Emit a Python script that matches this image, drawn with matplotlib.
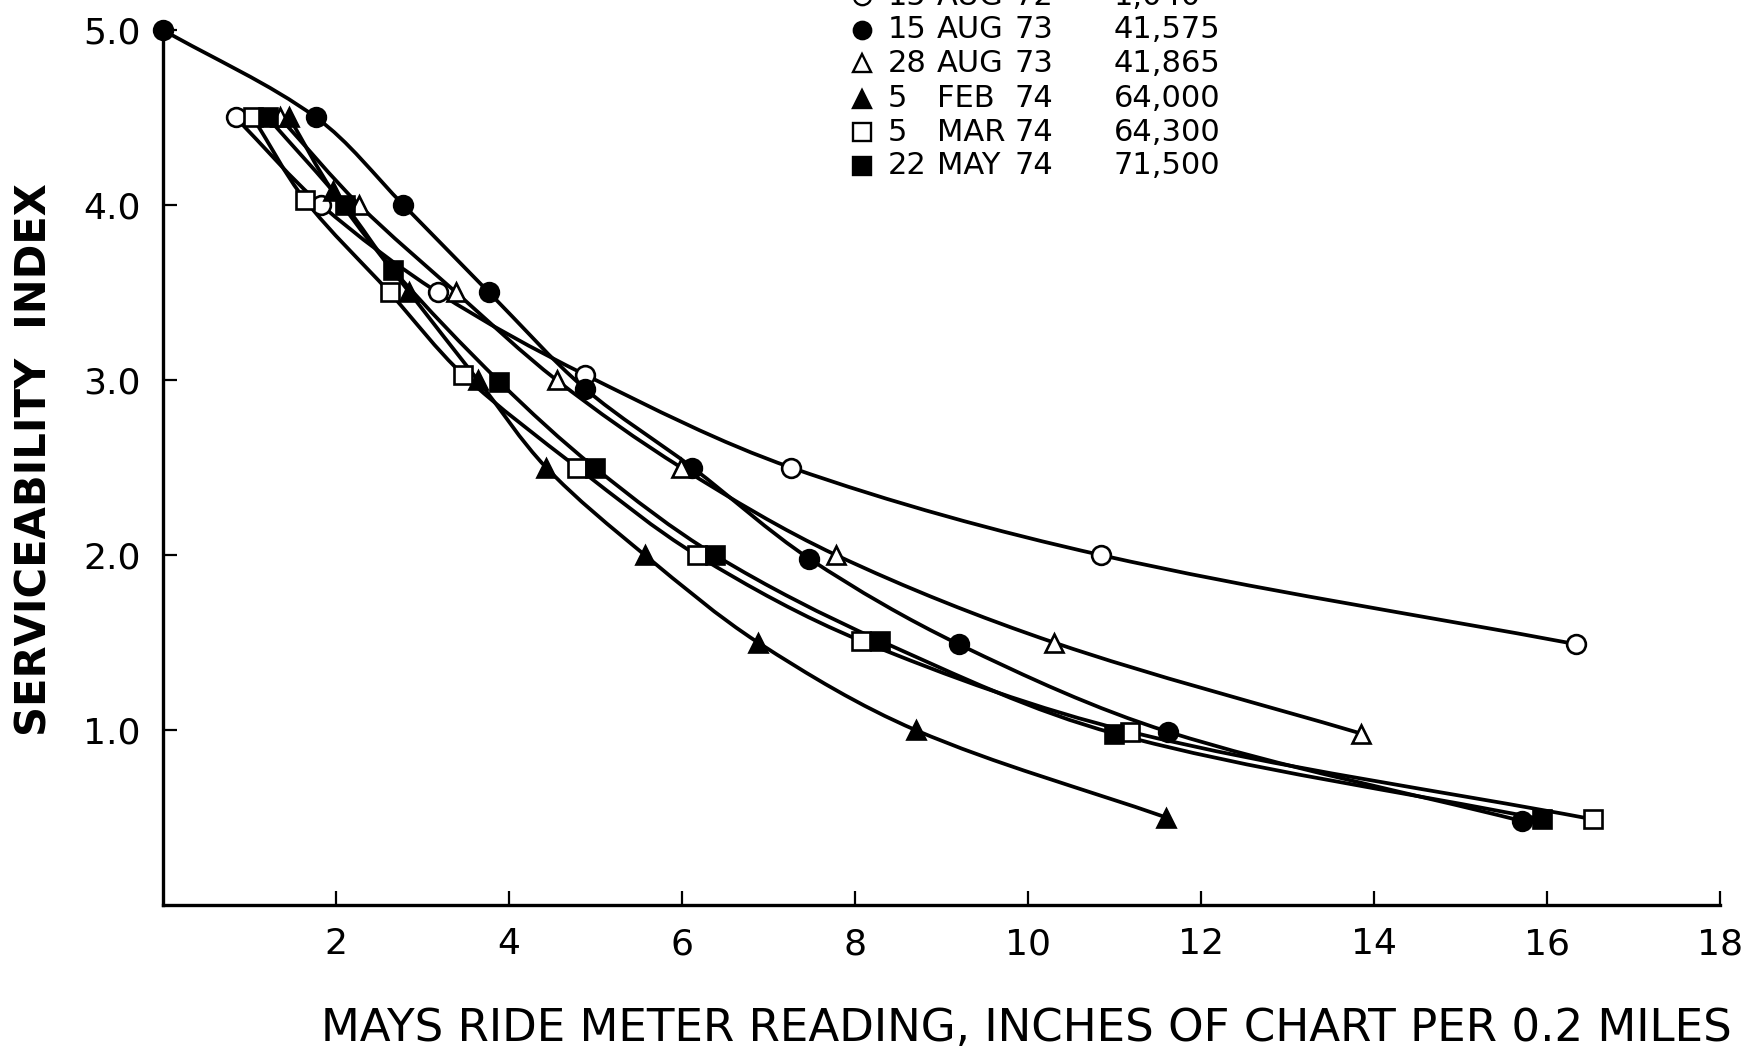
import numpy as np
import matplotlib
matplotlib.use("Agg")
import matplotlib.pyplot as plt
from matplotlib.path import Path
from matplotlib.patches import PathPatch
from matplotlib.lines import Line2D

# Data: (ride meter reading, serviceability index)
x_o_circle = [0.84, 1.83, 3.18, 4.88, 7.26, 10.84, 16.34]
y_o_circle = [4.5, 4.0, 3.5, 3.03, 2.5, 2.0, 1.49]

x_f_circle = [0.0, 1.77, 2.78, 3.77, 4.88, 6.12, 7.47, 9.2, 11.62, 15.71]
y_f_circle = [5.0, 4.5, 4.0, 3.5, 2.95, 2.5, 1.98, 1.49, 0.99, 0.48]

x_o_tri = [1.35, 2.27, 3.39, 4.55, 5.99, 7.78, 10.3, 13.85]
y_o_tri = [4.5, 4.0, 3.5, 3.0, 2.5, 2.0, 1.5, 0.98]

x_f_tri = [1.46, 1.96, 2.85, 3.64, 4.43, 5.57, 6.88, 8.70, 11.6]
y_f_tri = [4.5, 4.08, 3.5, 3.0, 2.5, 2.0, 1.5, 1.0, 0.5]

x_o_sq = [1.04, 1.64, 2.62, 3.47, 4.79, 6.17, 8.07, 11.18, 16.53]
y_o_sq = [4.5, 4.03, 3.5, 3.03, 2.5, 2.0, 1.51, 0.99, 0.49]

x_f_sq = [1.21, 2.1, 2.66, 3.89, 4.99, 6.38, 8.29, 11.0, 15.94]
y_f_sq = [4.5, 4.0, 3.63, 2.99, 2.5, 2.0, 1.51, 0.98, 0.49]

leg_day = ["15", "15", "28", "5", "5", "22"]
leg_month = ["AUG", "AUG", "AUG", "FEB", "MAR", "MAY"]
leg_year = ["72", "73", "73", "74", "74", "74"]
leg_value = ["1,040", "41,575", "41,865", "64,000", "64,300", "71,500"]

x_ticks = [2, 4, 6, 8, 10, 12, 14, 16, 18]
y_ticks = [1, 2, 3, 4, 5]
y_tick_labels = ["1.0", "2.0", "3.0", "4.0", "5.0"]

# marker style per series: (marker, filled)
styles = [("o", False), ("o", True), ("^", False), ("^", True), ("s", False), ("s", True)]
series = [(x_o_circle, y_o_circle), (x_f_circle, y_f_circle), (x_o_tri, y_o_tri),
          (x_f_tri, y_f_tri), (x_o_sq, y_o_sq), (x_f_sq, y_f_sq)]

ASPECT = 2.02  # y units are ~2x as tall as x units on the page


def smooth_path(xs, ys):
    # french-curve look: cubic Bezier pieces, tangents from neighbours,
    # handle length a third of each chord (no overshoot on uneven spacing)
    pts = np.column_stack([xs, np.asarray(ys) * ASPECT])
    n = len(pts)
    tang = []
    for i in range(n):
        a = pts[max(i - 1, 0)]
        b = pts[min(i + 1, n - 1)]
        d = b - a
        tang.append(d / np.hypot(*d))
    verts = [pts[0]]
    codes = [Path.MOVETO]
    for i in range(n - 1):
        p1, p2 = pts[i], pts[i + 1]
        h = np.hypot(*(p2 - p1)) / 3.0
        verts += [p1 + tang[i] * h, p2 - tang[i + 1] * h, p2]
        codes += [Path.CURVE4] * 3
    verts = np.array(verts)
    verts[:, 1] /= ASPECT
    return Path(verts, codes)


plt.rcParams['font.family'] = ['DejaVu Sans']

fig = plt.figure(figsize=(17.43, 10.52), dpi=100)
ax = fig.add_axes([0.0935, 0.1397, 0.8933, 0.8318])

for (xs, ys), (mk, filled) in zip(series, styles):
    ax.add_patch(PathPatch(smooth_path(xs, ys), facecolor='none', edgecolor='black',
                           lw=2.7, zorder=2, clip_on=False))
    ax.plot(xs, ys, ls='none', marker=mk, markersize=13.5,
            markerfacecolor='black' if filled else 'white',
            markeredgecolor='black', markeredgewidth=1.9, zorder=3, clip_on=False)

ax.set_xlim(0, 18)
ax.set_ylim(0, 5)
ax.set_xticks(x_ticks)
ax.set_xticklabels([str(t) for t in x_ticks], fontsize=26)
ax.set_yticks(y_ticks)
ax.set_yticklabels(y_tick_labels, fontsize=26)
ax.tick_params(direction='in', length=10, width=1.6, pad=16)
for s in ['top', 'right']:
    ax.spines[s].set_visible(False)
for s in ['left', 'bottom']:
    ax.spines[s].set_linewidth(2.4)

fig.text(0.589, 0.022, "MAYS RIDE METER READING, INCHES OF CHART PER 0.2 MILES",
         fontsize=32.5, ha='center', va='center')
fig.text(0.02, 0.5627, "SERVICEABILITY  INDEX", fontsize=30, fontweight='bold',
         rotation=90, ha='center', va='center')

# legend block at the top, first row clipped by the page edge
row_y = [-3.9, 30.0, 63.4, 98.9, 132.3, 165.6]
for i in range(len(leg_day)):
    fy = 1 - row_y[i] / 1052
    mk, filled = styles[i]
    fig.add_artist(Line2D([862 / 1743], [fy], transform=fig.transFigure, ls='none',
                          marker=mk, markersize=12.5,
                          markerfacecolor='black' if filled else 'white',
                          markeredgecolor='black', markeredgewidth=1.7))
    fig.text(888 / 1743, fy, leg_day[i], fontsize=22, va='center')
    fig.text(937 / 1743, fy, leg_month[i], fontsize=22, va='center')
    fig.text(1014 / 1743, fy, leg_year[i], fontsize=22, va='center')
    fig.text(1114 / 1743, fy, leg_value[i], fontsize=22, va='center')

fig.savefig("out.png", dpi=100)
